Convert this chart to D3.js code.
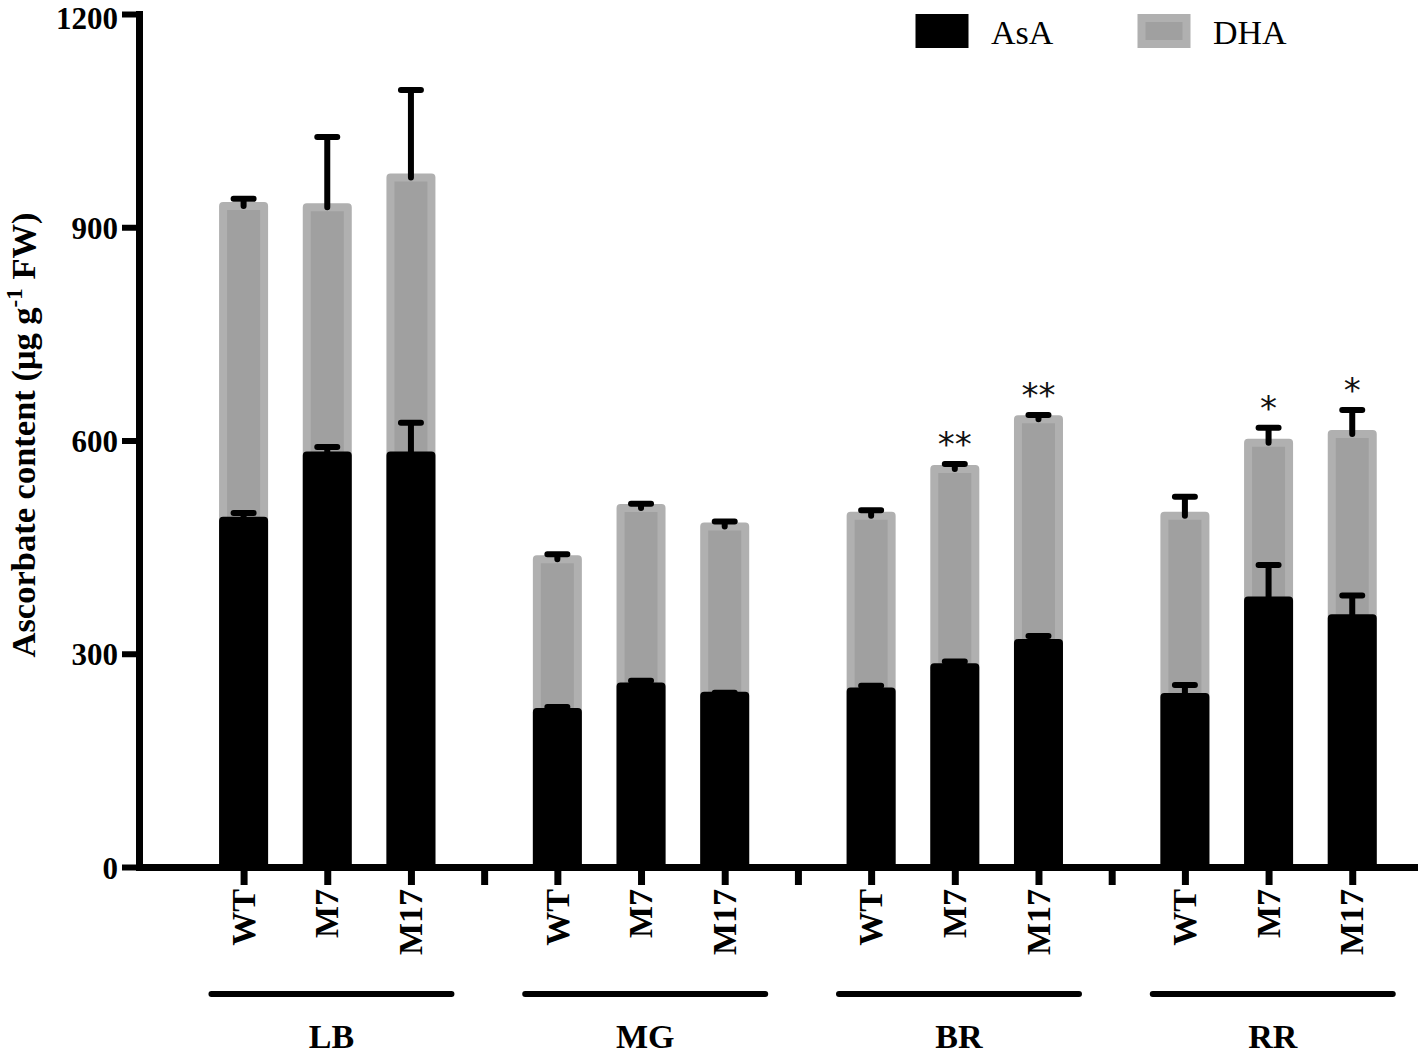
<!DOCTYPE html>
<html><head><meta charset="utf-8">
<script src="https://cdn.jsdelivr.net/npm/d3@7"></script>
<style>html,body{margin:0;padding:0;background:#fff;} svg{display:block}</style>
</head><body>
<svg id="chart" width="1418" height="1054"></svg>
<script>
const stages = ["LB", "MG", "BR", "RR"];
const genotypes = ["WT", "M7", "M17"];
const seriesNames = ["AsA", "DHA"];
// AsA (black, lower) and total AsA+DHA (stack top), means with SE (upper bars only)
const asaValues = [487, 579, 579, 218, 254, 241, 247, 281, 315, 239, 375, 350];
const asaErrors = [11, 12, 46, 7, 8, 4, 8, 8, 10, 17, 50, 32];
const totalValues = [930, 928, 970, 433, 505, 479, 494, 560, 630, 494, 597, 609];
const totalErrors = [10, 99, 123, 7, 6, 7, 8, 7, 6, 27, 21, 34];
const significance = ["", "", "", "", "", "", "", "**", "**", "", "*", "*"];
const yTicks = [0, 300, 600, 900, 1200];
const yTitle = "Ascorbate content (μg g";
const yTitleSup = "-1";
const yTitleEnd = " FW)";

const svg = d3.select("#chart");
const serif = "'Liberation Serif','Times New Roman',serif";

const y = d3.scaleLinear().domain([0, 1200]).range([867, 14]);
const x = d3.scaleLinear().domain([-1.25, 14]).range([139, 1415]);
const groupStep = 3.75;

const rows = [];
stages.forEach((s, g) => genotypes.forEach((gt, i) => {
  const k = g * 3 + i;
  rows.push({stage: s, geno: gt, slot: g * groupStep + i,
    asa: asaValues[k], asaErr: asaErrors[k],
    total: totalValues[k], totalErr: totalErrors[k], sig: significance[k]});
}));

const barW = 41;
const grey = "#a0a0a0", greyEdge = "#b0b0b0";

// DHA (stack top) bars
svg.append("g").selectAll("rect").data(rows).join("rect")
  .attr("x", d => x(d.slot) - barW / 2).attr("width", barW)
  .attr("y", d => y(d.total)).attr("height", d => y(0) - y(d.total))
  .attr("fill", grey).attr("stroke", greyEdge).attr("stroke-width", 8)
  .attr("stroke-linejoin", "round");

// DHA error bars
const errPath = (cx, v, e) => `M${cx},${y(v)}V${y(v + e)}M${cx - 10},${y(v + e)}H${cx + 10}`;
svg.append("g").selectAll("path").data(rows).join("path")
  .attr("d", d => errPath(x(d.slot), d.total, d.totalErr))
  .attr("fill", "none").attr("stroke", "#000").attr("stroke-width", 6).attr("stroke-linecap", "round");

// AsA bars
svg.append("g").selectAll("rect").data(rows).join("rect")
  .attr("x", d => x(d.slot) - barW / 2).attr("width", barW)
  .attr("y", d => y(d.asa)).attr("height", d => y(0) - y(d.asa))
  .attr("fill", "#000").attr("stroke", "#000").attr("stroke-width", 8)
  .attr("stroke-linejoin", "round");

// AsA error bars
svg.append("g").selectAll("path").data(rows).join("path")
  .attr("d", d => errPath(x(d.slot), d.asa, d.asaErr))
  .attr("fill", "none").attr("stroke", "#000").attr("stroke-width", 6).attr("stroke-linecap", "round");

// significance stars
svg.append("g").selectAll("text").data(rows.filter(d => d.sig)).join("text")
  .attr("x", d => x(d.slot)).attr("y", d => y(d.total + d.totalErr) - 8)
  .attr("text-anchor", "middle")
  .attr("font-family", "'DejaVu Sans',sans-serif").attr("font-size", 34)
  .attr("fill", "#111").text(d => d.sig);

// Y axis
const yAxis = svg.append("g").attr("transform", `translate(${x(-1.25)},0)`)
  .call(d3.axisLeft(y).tickValues(yTicks).tickSize(17).tickSizeOuter(0).tickPadding(4)
    .tickFormat(d3.format("d")));
yAxis.select(".domain").attr("stroke", "#000").attr("stroke-width", 7).attr("stroke-linecap", "square");
yAxis.selectAll(".tick line").attr("stroke", "#000").attr("stroke-width", 6);
yAxis.selectAll(".tick text").attr("font-family", serif).attr("font-weight", "bold")
  .attr("font-size", 31).attr("dy", d => d === 1200 ? "0.46em" : "0.36em").attr("fill", "#000");

// X axis
const sepSlots = stages.slice(1).map((s, g) => g * groupStep + 2 + (groupStep - 2) / 2);
const xTicks = rows.map(d => d.slot).concat(sepSlots);
const xAxis = svg.append("g").attr("transform", `translate(0,${y(0)})`)
  .call(d3.axisBottom(x).tickValues(xTicks).tickSize(18).tickSizeOuter(0).tickFormat(""));
xAxis.select(".domain").attr("stroke", "#000").attr("stroke-width", 7).attr("stroke-linecap", "square");
xAxis.selectAll(".tick line").attr("stroke", "#000").attr("stroke-width", 7);

// genotype labels (rotated)
svg.append("g").selectAll("text").data(rows).join("text")
  .attr("transform", d => `translate(${x(d.slot)},889) rotate(-90)`)
  .attr("text-anchor", "end").attr("dy", "0.33em")
  .attr("font-family", serif).attr("font-weight", "bold").attr("font-size", 34)
  .attr("fill", "#000").text(d => d.geno);

// stage brackets + labels
const stageData = stages.map((s, g) => ({stage: s, start: g * groupStep, end: g * groupStep + 2}));
svg.append("g").selectAll("line").data(stageData).join("line")
  .attr("x1", d => x(d.start - 0.42) + 3).attr("x2", d => x(d.end + 0.52) - 3)
  .attr("y1", 994).attr("y2", 994)
  .attr("stroke", "#000").attr("stroke-width", 6).attr("stroke-linecap", "round");
svg.append("g").selectAll("text").data(stageData).join("text")
  .attr("x", d => x((d.start + d.end) / 2 + 0.05)).attr("y", 1048)
  .attr("text-anchor", "middle")
  .attr("font-family", serif).attr("font-weight", "bold").attr("font-size", 34)
  .attr("fill", "#000").text(d => d.stage);

// Y title
const yt = svg.append("text").attr("transform", "translate(35,435) rotate(-90)")
  .attr("text-anchor", "middle").attr("font-family", serif).attr("font-weight", "bold")
  .attr("font-size", 34.5).attr("fill", "#000");
yt.append("tspan").text(yTitle);
yt.append("tspan").attr("dy", -13).attr("font-size", 23).text(yTitleSup);
yt.append("tspan").attr("dy", 13).text(yTitleEnd);

// Legend
const legendX = [919.5, 1141.5];
const lg = svg.append("g").selectAll("g").data(seriesNames).join("g")
  .attr("transform", (d, i) => `translate(${legendX[i]},18)`);
lg.append("rect").attr("width", 45).attr("height", 26)
  .attr("fill", (d, i) => i === 0 ? "#000" : grey)
  .attr("stroke", (d, i) => i === 0 ? "#000" : greyEdge).attr("stroke-width", 8);
lg.append("text").attr("x", 71.5).attr("y", 26)
  .attr("font-family", serif).attr("font-size", 34).attr("fill", "#000").text(d => d);
</script>
</body></html>
